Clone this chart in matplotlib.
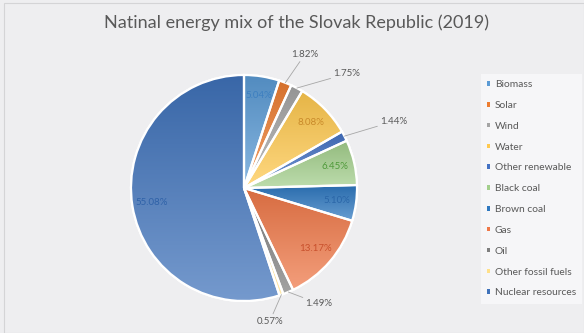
import numpy as np
import matplotlib
matplotlib.use("Agg")
import matplotlib.pyplot as plt
from matplotlib.patches import Patch, Wedge, Rectangle
from matplotlib.colors import to_rgb

# ---------------- data ----------------
categories = ["Biomass", "Solar", "Wind", "Water", "Other renewable", "Black coal",
              "Brown coal", "Gas", "Oil", "Other fossil fuels", "Nuclear resources"]
shares = [5.04, 1.82, 1.75, 8.08, 1.44, 6.45, 5.10, 13.17, 1.49, 0.57, 55.08]
title = "Natinal energy mix of the Slovak Republic (2019)"

# ---------------- style ----------------
colors = ["#5b9bd5", "#ed7d31", "#a5a5a5", "#ffc94f", "#4472c4", "#a3cf8c",
          "#2e78c0", "#ef7848", "#7f7f7f", "#ffe08a", "#3f72ba"]
label_colors = ["#3d7fc0", "#595959", "#595959", "#c98a2a", "#595959", "#4f9a3a",
                "#2a66a8", "#c8502c", "#595959", "#595959", "#2f62a8"]
inside = {0, 3, 5, 6, 7, 10}
# outside label layout: (radius factor, angle deg)
outside_pos = {1: (1.30, 65.5), 2: (1.36, 48.0), 4: (1.45, 24.0), 8: (1.22, -57.0), 9: (1.20, -79.0)}

W, H = 584, 333
fig = plt.figure(figsize=(W / 100, H / 100), dpi=100)
fig.patch.set_facecolor("#eeeef0")
ax = fig.add_axes([0, 0, 1, 1])
ax.set_facecolor("none")

R = 113
C = (244, H - 188)
wedges, _ = ax.pie(shares, colors=colors, startangle=90, counterclock=False,
                   radius=R, center=C, frame=True,
                   wedgeprops=dict(edgecolor="white", linewidth=1.6))


def mix(c, other, t):
    a = np.array(to_rgb(c)); b = np.array(to_rgb(other))
    return a * (1 - t) + b * t


# gradient fill per wedge (darker top, lighter bottom)
for w, col in zip(wedges, colors):
    v = w.get_path().vertices
    x0, x1 = v[:, 0].min(), v[:, 0].max()
    y0, y1 = v[:, 1].min(), v[:, 1].max()
    top = mix(col, "black", 0.10)
    bot = mix(col, "white", 0.28)
    n = 64
    t = np.linspace(0, 1, n)[:, None]
    grad = top[None, :] * (1 - t) + bot[None, :] * t
    img = ax.imshow(grad[:, None, :], extent=[x0, x1, y0, y1], origin="upper",
                    interpolation="bilinear", aspect="auto", zorder=1.5)
    img.set_clip_path(w)
    ax.add_patch(Wedge(w.center, w.r, w.theta1, w.theta2, fill=False,
                       ec="white", lw=1.6, zorder=1.6))

# labels
for i, (w, v) in enumerate(zip(wedges, shares)):
    mid = np.deg2rad((w.theta1 + w.theta2) / 2)
    txt = f"{v:.2f}%"
    if i in inside:
        r = 0.83 * R
        ax.text(C[0] + r * np.cos(mid), C[1] + r * np.sin(mid), txt,
                ha="center", va="center", fontsize=7, color=label_colors[i],
                family="Lato", zorder=3)
    else:
        rf, ang = outside_pos[i]
        a = np.deg2rad(ang)
        tx, ty = C[0] + rf * R * np.cos(a), C[1] + rf * R * np.sin(a)
        ex, ey = C[0] + R * np.cos(mid), C[1] + R * np.sin(mid)
        ax.annotate(txt, xy=(ex, ey), xytext=(tx, ty), ha="center", va="center",
                    fontsize=7, color="#595959", family="Lato", zorder=3,
                    arrowprops=dict(arrowstyle="-", color="#a6a6a6", lw=0.6,
                                    shrinkA=0, shrinkB=0))

ax.set_xlim(0, W)
ax.set_ylim(0, H)
ax.set_aspect("equal")
ax.axis("off")

# outer border
fig.add_artist(Rectangle((4 / W, 0), (W - 4) / W, (H - 3) / H, transform=fig.transFigure,
                         fill=False, ec="#d4d4d6", lw=0.8))

fig.text(297 / W, 1 - 23 / H, title, ha="center", va="center", fontsize=13,
         color="#595959", family="Lato")

handles = [Patch(facecolor=c, edgecolor="none") for c in colors]
leg = fig.legend(handles, categories, loc="upper left",
                 bbox_to_anchor=(481 / W, 1 - 74 / H), frameon=True,
                 facecolor="#f6f6f8", edgecolor="none", framealpha=1,
                 labelcolor="#595959", handlelength=0.3,
                 handleheight=0.3, handletextpad=0.45, labelspacing=1.15,
                 borderpad=0.6, borderaxespad=0, fancybox=False,
                 prop=dict(family="Lato", size=7.4))

fig.savefig("out.png", dpi=100, facecolor=fig.get_facecolor())
